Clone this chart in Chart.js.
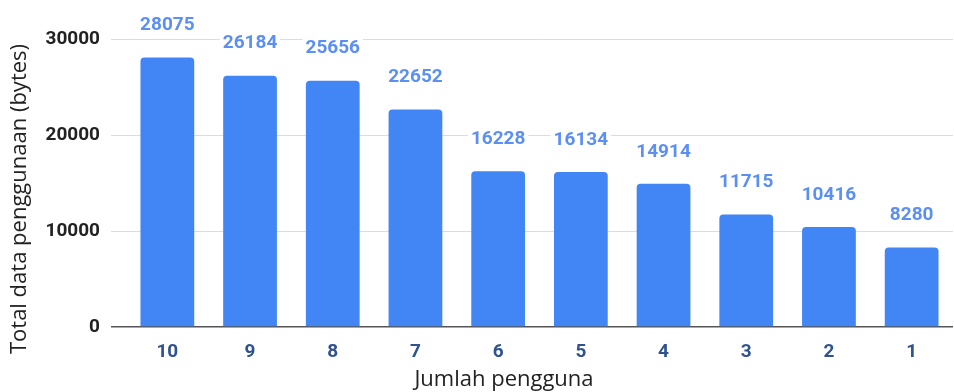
<!DOCTYPE html>
<html>
<head>
<meta charset="utf-8">
<script src="https://cdn.jsdelivr.net/npm/chart.js@4"></script>
<style>
  html, body { margin: 0; padding: 0; background: #ffffff; }
  #wrap { width: 954px; height: 392px; }
</style>
</head>
<body>
<div id="wrap"><canvas id="c" width="954" height="392"></canvas></div>
<script>
const categories = ['10', '9', '8', '7', '6', '5', '4', '3', '2', '1'];
const usageBytes = [28075, 26184, 25656, 22652, 16228, 16134, 14914, 11715, 10416, 8280];
const yTicks = [0, 10000, 20000, 30000];
const xTitle = 'Jumlah pengguna';
const yTitle = 'Total data penggunaan (bytes)';

const valueLabels = {
  id: 'valueLabels',
  afterDatasetsDraw(chart) {
    const ctx = chart.ctx;
    const meta = chart.getDatasetMeta(0);
    ctx.save();
    ctx.font = 'bold 19px Roboto';
    ctx.textAlign = 'center';
    ctx.textBaseline = 'middle';
    meta.data.forEach((bar, i) => {
      const txt = String(chart.data.datasets[0].data[i]);
      const y = bar.y - 32;
      const w = ctx.measureText(txt).width;
      ctx.fillStyle = '#ffffff';
      ctx.fillRect(bar.x - w / 2 - 3, y - 10, w + 6, 20);
      ctx.fillStyle = '#5b8ff4';
      ctx.fillText(txt, bar.x, y);
    });
    ctx.restore();
  }
};

const axisTitles = {
  id: 'axisTitles',
  afterDraw(chart) {
    const ctx = chart.ctx;
    ctx.save();
    ctx.fillStyle = '#222222';
    ctx.font = '22px "Open Sans"';
    ctx.textAlign = 'center';
    ctx.textBaseline = 'middle';
    ctx.fillText(xTitle, 504, 380);
    ctx.translate(20, 199);
    ctx.rotate(-Math.PI / 2);
    ctx.fillText(yTitle, 0, 0);
    ctx.restore();
  }
};

new Chart(document.getElementById('c'), {
  type: 'bar',
  data: {
    labels: categories,
    datasets: [{
      data: usageBytes,
      backgroundColor: '#4285f4',
      borderRadius: { topLeft: 4, topRight: 4, bottomLeft: 0, bottomRight: 0 },
      borderSkipped: 'bottom',
      barPercentage: 0.65,
      categoryPercentage: 1.0
    }]
  },
  options: {
    responsive: false,
    animation: false,
    layout: { padding: { top: 39, right: 1, left: 0, bottom: 0 } },
    plugins: { legend: { display: false }, tooltip: { enabled: false } },
    scales: {
      x: {
        grid: { display: false, drawTicks: false },
        border: { display: false },
        ticks: { color: '#2f5291', font: { family: 'Roboto', size: 19, weight: 'bold' }, padding: 14 },
        afterFit(scale) { scale.height = 65; }
      },
      y: {
        min: 0,
        max: 30000,
        afterBuildTicks(scale) { scale.ticks = yTicks.map(v => ({ value: v })); },
        grid: {
          color: c => (c.tick && c.tick.value === 0) ? '#555555' : '#dcdcdc',
          lineWidth: c => (c.tick && c.tick.value === 0) ? 1.5 : 1,
          tickColor: c => (c.tick && c.tick.value === 0) ? '#555555' : '#dcdcdc',
          tickLength: 15,
          drawTicks: true
        },
        border: { display: false },
        ticks: {
          color: '#222222',
          font: { family: 'Roboto', size: 19, weight: 'bold' },
          padding: 11,
          callback: v => String(v)
        },
        afterFit(scale) { scale.width = 126; }
      }
    }
  },
  plugins: [valueLabels, axisTitles]
});
</script>
</body>
</html>
